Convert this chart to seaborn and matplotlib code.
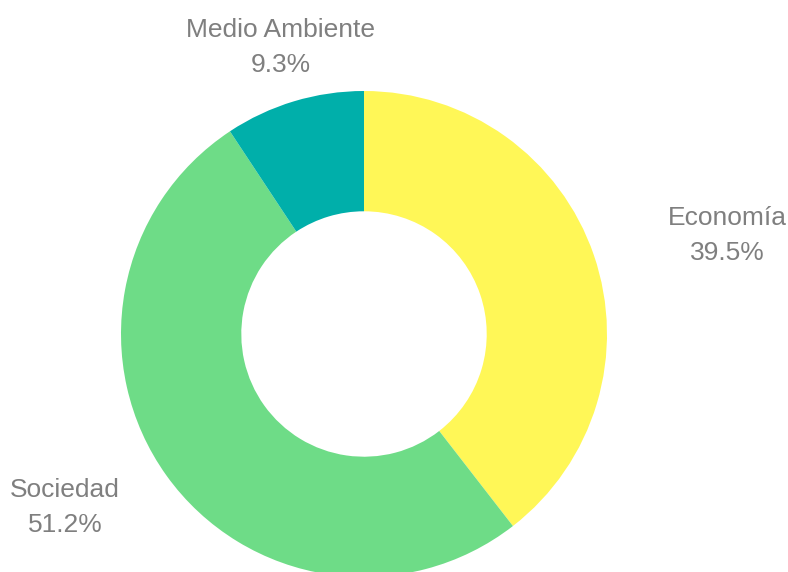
import numpy as np
import seaborn as sns
import matplotlib
matplotlib.use("Agg")
import matplotlib.pyplot as plt

categories = ["Economía", "Sociedad", "Medio Ambiente"]
shares = [39.5, 51.2, 9.3]
colors = ["#FFF757", "#6EDC87", "#00AFAA"]

sns.set_style("white")
plt.rcParams["font.family"] = ["Liberation Sans", "DejaVu Sans"]

fig = plt.figure(figsize=(7.88, 5.72), dpi=100)
ax = fig.add_axes([0, 0, 1, 1])

wedges, _ = ax.pie(shares, colors=sns.color_palette(colors), startangle=90,
                   counterclock=False, radius=1,
                   wedgeprops=dict(width=0.495, linewidth=0))

# label distances (x, y) from centre, in radii
label_dist = {"Economía": (1.32, 1.25), "Sociedad": (1.235, 1.227),
              "Medio Ambiente": (1.19, 1.23)}

for w, name, val in zip(wedges, categories, shares):
    ang = np.deg2rad((w.theta1 + w.theta2) / 2)
    cx, cy = np.cos(ang), np.sin(ang)
    dx, dy = label_dist[name]
    if abs(cx) < 0.5:
        ha = "center"
    elif cx > 0:
        ha = "left"
    else:
        ha = "right"
    ax.text(dx * cx, dy * cy, f"{name}\n{val}%", ha=ha, va="center",
            multialignment="center", fontsize=19, color="#7f7f7f",
            linespacing=1.6)

ax.set_aspect("auto")
ax.set_xlim(-364 / 243, (788 - 364) / 243)
ax.set_ylim(-238 / 243, (572 - 238) / 243)
ax.axis("off")

fig.savefig("out.png", dpi=100)
